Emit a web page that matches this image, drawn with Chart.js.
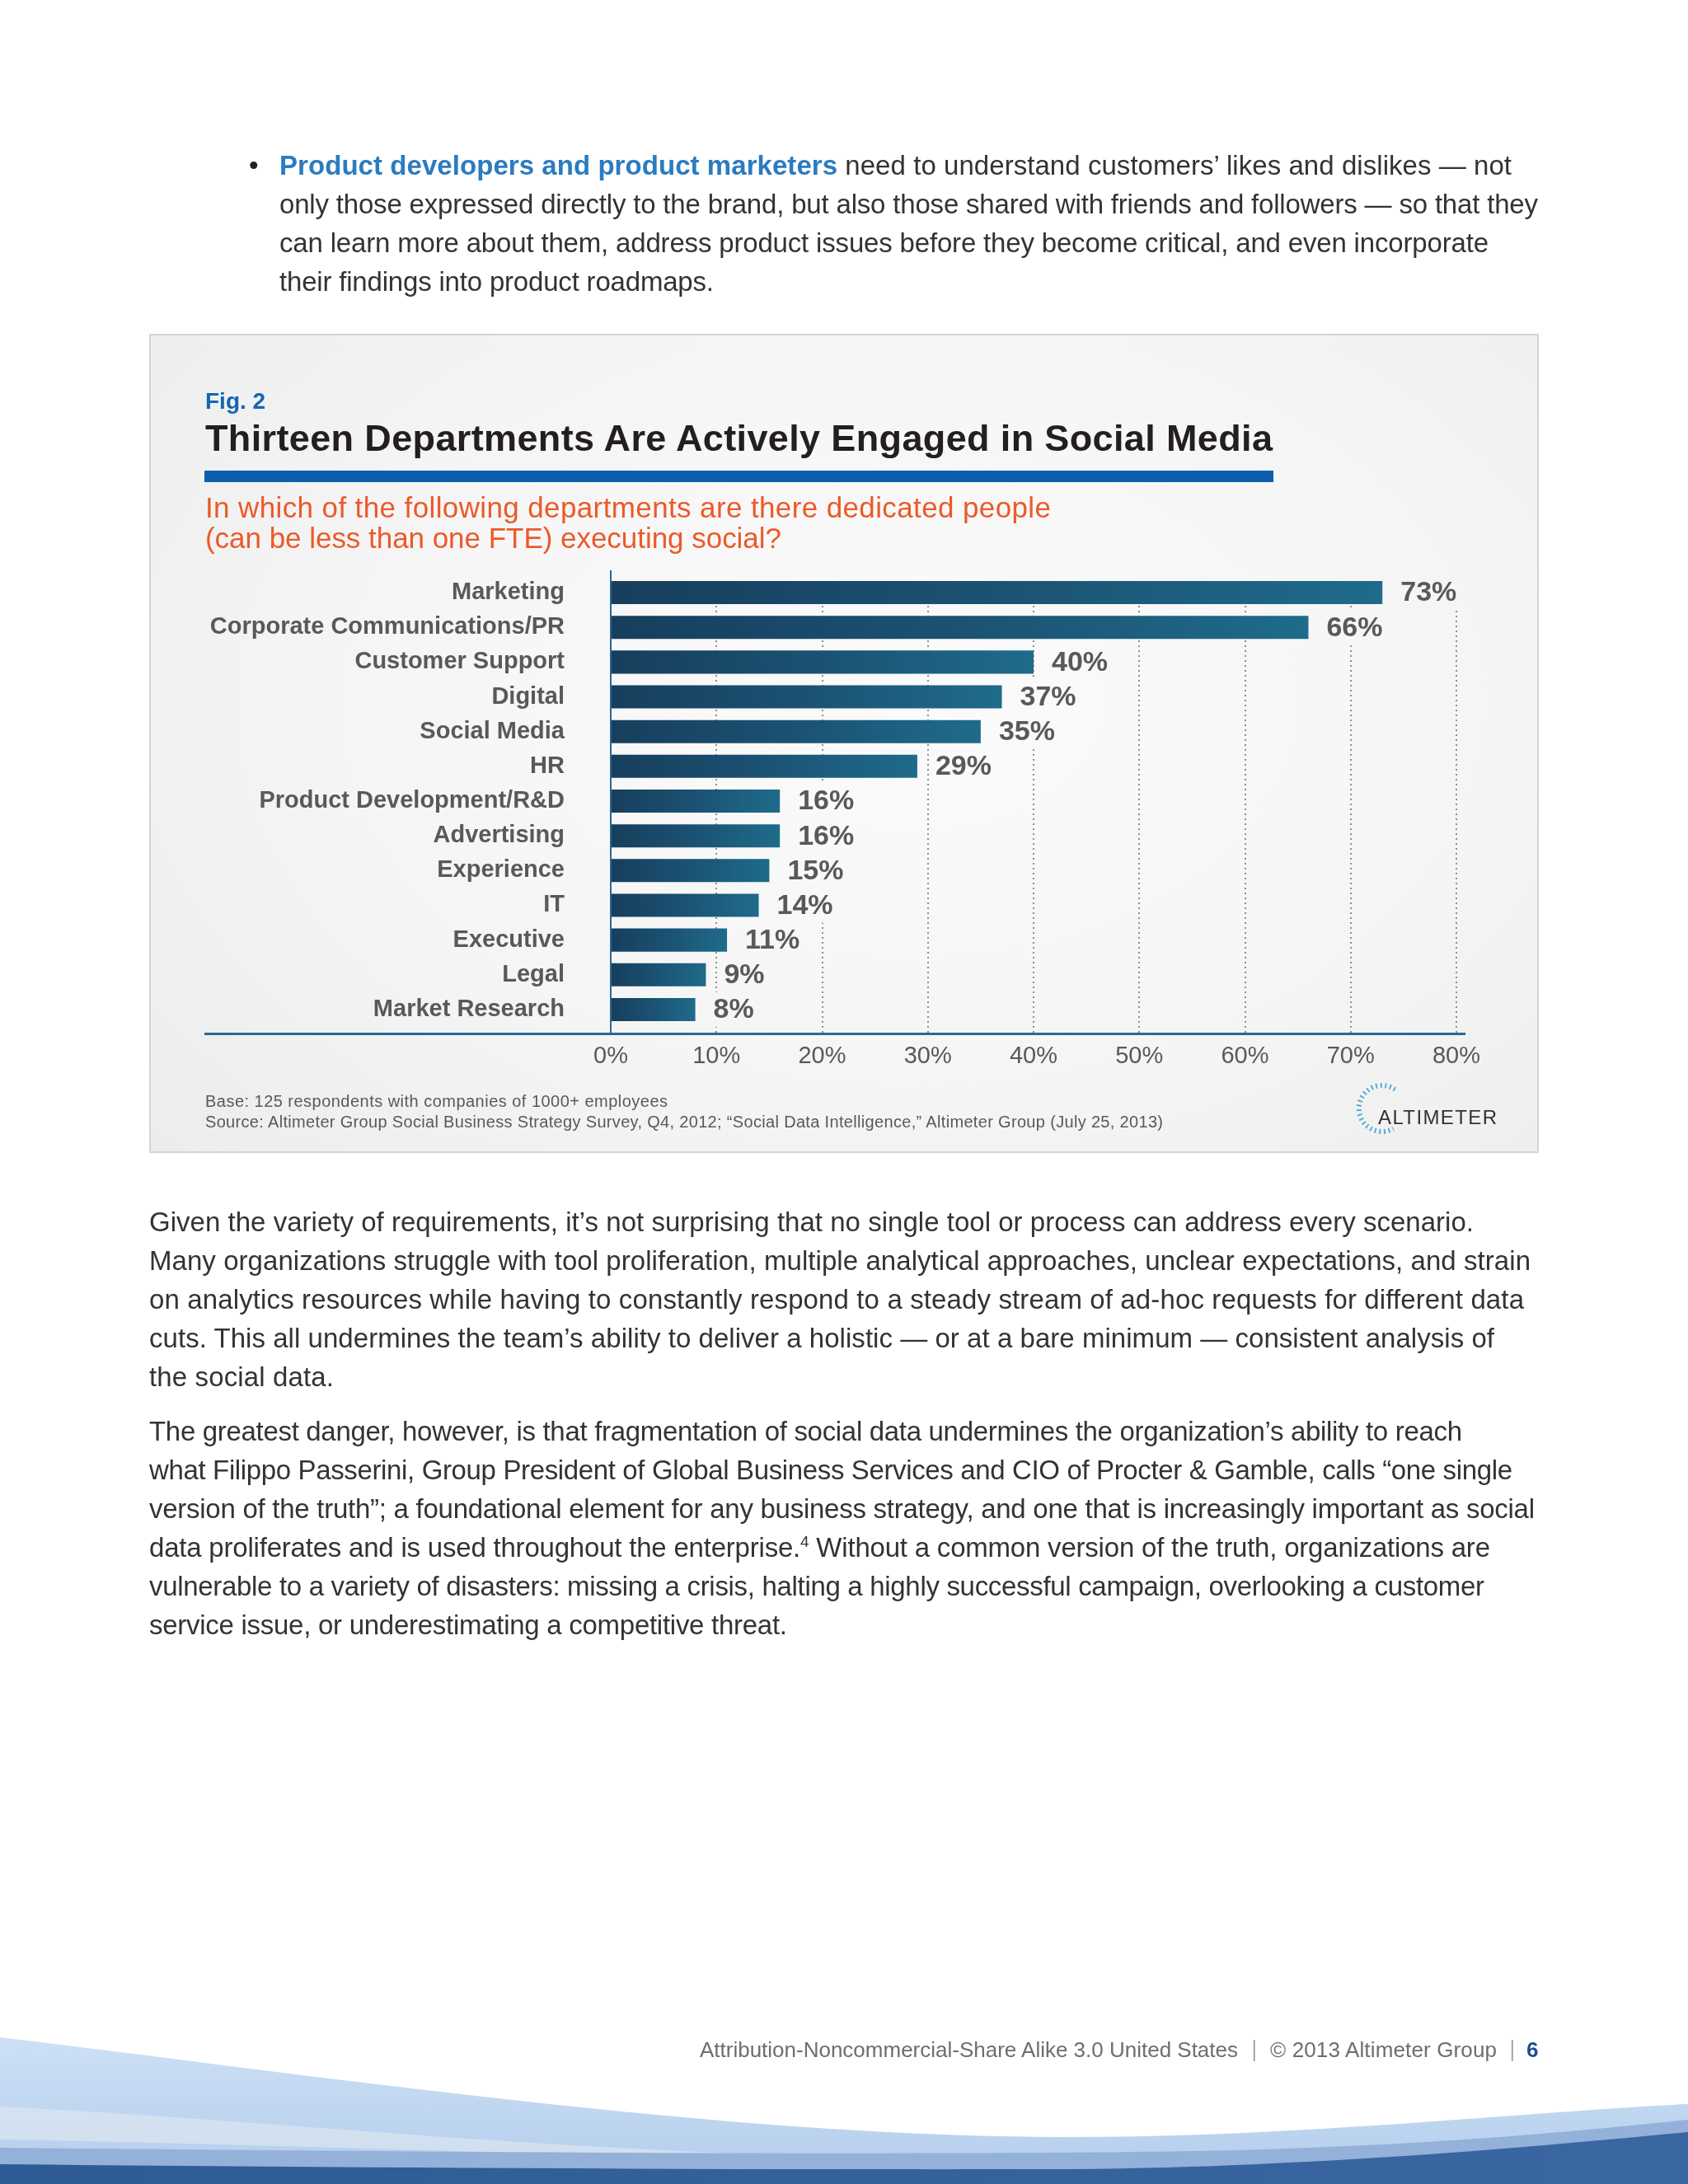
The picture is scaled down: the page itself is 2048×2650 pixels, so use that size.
<!DOCTYPE html>
<html>
<head>
<meta charset="utf-8">
<script src="https://cdn.jsdelivr.net/npm/chart.js@4.4.1/dist/chart.umd.min.js"></script>
<style>
  html, body { margin: 0; padding: 0; background: #fff; }
  #page { position: relative; width: 2048px; height: 2650px; overflow: hidden; background: #fff; }
  #box { position: absolute; left: 181px; top: 405px; width: 1682px; height: 990px;
         border: 2px solid #d3d4d6;
         background: radial-gradient(ellipse 75% 85% at 55% 45%, #fbfbfb 0%, #f5f5f6 55%, #ececed 100%); }
  #chartWrap { position: absolute; left: 181px; top: 670px; width: 1686px; height: 640px; }
  #overlay { position: absolute; left: 0; top: 0; pointer-events: none; }
  text { font-family: "Liberation Sans", Arial, Helvetica, sans-serif; }
</style>
</head>
<body>
<div id="page">
  <div id="box"></div>
  <div id="chartWrap"><canvas id="chart" width="1686" height="640"></canvas></div>

  <svg id="overlay" width="2048" height="2650" viewBox="0 0 2048 2650" xmlns="http://www.w3.org/2000/svg">
    <!-- bullet paragraph -->
    <text x="302" y="212" font-size="33" fill="#222">•</text>
    <text x="339" y="212" font-size="33" fill="#333" textLength="1495" lengthAdjust="spacing"><tspan font-weight="bold" fill="#2b7bc0">Product developers and product marketers</tspan> need to understand customers’ likes and dislikes — not</text>
    <text x="339" y="259" font-size="33" fill="#333" textLength="1527" lengthAdjust="spacing">only those expressed directly to the brand, but also those shared with friends and followers — so that they</text>
    <text x="339" y="306" font-size="33" fill="#333" textLength="1467" lengthAdjust="spacing">can learn more about them, address product issues before they become critical, and even incorporate</text>
    <text x="339" y="353" font-size="33" fill="#333" textLength="527" lengthAdjust="spacing">their findings into product roadmaps.</text>

    <!-- figure header -->
    <text x="249" y="496" font-size="28" font-weight="bold" fill="#1565b0">Fig. 2</text>
    <text x="249" y="547" font-size="45" font-weight="bold" fill="#231f20" textLength="1295" lengthAdjust="spacing">Thirteen Departments Are Actively Engaged in Social Media</text>
    <rect x="248" y="571" width="1297" height="14" fill="#0b5fad"/>
    <text x="249" y="628" font-size="35" fill="#eb5a28" textLength="1026" lengthAdjust="spacing">In which of the following departments are there dedicated people</text>
    <text x="249" y="665" font-size="35" fill="#eb5a28" textLength="699" lengthAdjust="spacing">(can be less than one FTE) executing social?</text>

    <!-- footnotes -->
    <text x="249" y="1343" font-size="20" fill="#58595b" textLength="561" lengthAdjust="spacing">Base: 125 respondents with companies of 1000+ employees</text>
    <text x="249" y="1368" font-size="20" fill="#58595b" textLength="1162" lengthAdjust="spacing">Source: Altimeter Group Social Business Strategy Survey, Q4, 2012; “Social Data Intelligence,” Altimeter Group (July 25, 2013)</text>

    <!-- Altimeter logo -->
    <path d="M1692.5,1321.9 A28,28 0 1 0 1690.5,1369.4" fill="none" stroke="#4aa8d8" stroke-width="6" stroke-dasharray="1.8 3.8"/>
    <text x="1672" y="1364" font-size="24" fill="#333" textLength="144" lengthAdjust="spacing">ALTIMETER</text>

    <!-- body paragraphs -->
    <g font-size="33" fill="#333">
      <text x="181" y="1494" textLength="1607" lengthAdjust="spacing">Given the variety of requirements, it’s not surprising that no single tool or process can address every scenario.</text>
      <text x="181" y="1541" textLength="1676" lengthAdjust="spacing">Many organizations struggle with tool proliferation, multiple analytical approaches, unclear expectations, and strain</text>
      <text x="181" y="1588" textLength="1668" lengthAdjust="spacing">on analytics resources while having to constantly respond to a steady stream of ad-hoc requests for different data</text>
      <text x="181" y="1635" textLength="1632" lengthAdjust="spacing">cuts. This all undermines the team’s ability to deliver a holistic — or at a bare minimum — consistent analysis of</text>
      <text x="181" y="1682" textLength="224" lengthAdjust="spacing">the social data.</text>

      <text x="181" y="1748" textLength="1593" lengthAdjust="spacing">The greatest danger, however, is that fragmentation of social data undermines the organization’s ability to reach</text>
      <text x="181" y="1795" textLength="1654" lengthAdjust="spacing">what Filippo Passerini, Group President of Global Business Services and CIO of Procter &amp; Gamble, calls “one single</text>
      <text x="181" y="1842" textLength="1681" lengthAdjust="spacing">version of the truth”; a foundational element for any business strategy, and one that is increasingly important as social</text>
      <text x="181" y="1889" textLength="1627" lengthAdjust="spacing">data proliferates and is used throughout the enterprise.<tspan dy="-12" font-size="19">4</tspan><tspan dy="12"> Without a common version of the truth, organizations are</tspan></text>
      <text x="181" y="1936" textLength="1620" lengthAdjust="spacing">vulnerable to a variety of disasters: missing a crisis, halting a highly successful campaign, overlooking a customer</text>
      <text x="181" y="1983" textLength="774" lengthAdjust="spacing">service issue, or underestimating a competitive threat.</text>
    </g>

    <!-- bottom waves -->
    <defs>
      <linearGradient id="gLight" x1="0" y1="0" x2="0" y2="1">
        <stop offset="0" stop-color="#cde0f5"/>
        <stop offset="1" stop-color="#b3cdec"/>
      </linearGradient>
      <linearGradient id="gDark" x1="0" y1="0" x2="1" y2="0">
        <stop offset="0" stop-color="#2e5b93"/>
        <stop offset="1" stop-color="#3a67a2"/>
      </linearGradient>
    </defs>
    <path d="M0,2472 C400,2520 900,2595 1306,2593 C1600,2592 1850,2562 2048,2553 L2048,2650 L0,2650 Z" fill="url(#gLight)"/>
    <path d="M0,2556 C250,2568 560,2600 920,2614 L920,2618 C560,2612 250,2600 0,2596 Z" fill="#dce6f1" opacity="0.7"/>
    <path d="M0,2606 C600,2612 1200,2616 1500,2609 C1750,2602 1900,2587 2048,2572 L2048,2650 L0,2650 Z" fill="#93b1d9"/>
    <path d="M0,2626 C400,2630 900,2633 1300,2632 C1600,2629 1850,2606 2048,2587 L2048,2650 L0,2650 Z" fill="url(#gDark)"/>

    <!-- footer -->
    <text x="849" y="2496" font-size="26" fill="#6d6e71" textLength="653" lengthAdjust="spacing">Attribution-Noncommercial-Share Alike 3.0 United States</text>
    <rect x="1521" y="2475" width="1.5" height="26" fill="#8a8b8d"/>
    <text x="1541" y="2496" font-size="26" fill="#6d6e71" textLength="275" lengthAdjust="spacing">© 2013 Altimeter Group</text>
    <rect x="1834" y="2475" width="1.5" height="26" fill="#8a8b8d"/>
    <text x="1852" y="2496" font-size="26" font-weight="bold" fill="#1d4e8f">6</text>
  </svg>
</div>

<script>
// ---- data ----
const categories = [
  'Marketing',
  'Corporate Communications/PR',
  'Customer Support',
  'Digital',
  'Social Media',
  'HR',
  'Product Development/R&D',
  'Advertising',
  'Experience',
  'IT',
  'Executive',
  'Legal',
  'Market Research'
];
const values = [73, 66, 40, 37, 35, 29, 16, 16, 15, 14, 11, 9, 8];
const xTicks = [0, 10, 20, 30, 40, 50, 60, 70, 80];
const xTickLabels = ['0%', '10%', '20%', '30%', '40%', '50%', '60%', '70%', '80%'];

// ---- styles ----
const FONT_FAMILY = '"Liberation Sans", Arial, Helvetica, sans-serif';
const TEXT_GRAY = '#58595b';
const LABEL_FONT = 'bold 34px ' + FONT_FAMILY;
const LABEL_GAP = 22;
const AXIS_GAP = 8;
const AXIS_COLOR = '#2a6896';
const AXIS_LEFT = 67;    // canvas px: where the baseline rule starts
const AXIS_RIGHT = 1597; // canvas px: where the baseline rule ends

function barGradient(c) {
  if (c.type !== 'data') return '#1c5576';
  const chart = c.chart;
  const xs = chart.scales && chart.scales.x;
  if (!chart.chartArea || !xs) return '#1c5576';
  const x0 = xs.getPixelForValue(0);
  const x1 = xs.getPixelForValue(values[c.dataIndex]);
  const g = chart.ctx.createLinearGradient(x0, 0, x1, 0);
  g.addColorStop(0, '#173e5d');
  g.addColorStop(0.5, '#1b5273');
  g.addColorStop(1, '#1f6b8a');
  return g;
}

const decor = {
  id: 'decor',
  beforeDatasetsDraw(chart) {
    const { ctx, chartArea } = chart;
    const xs = chart.scales.x;
    const meta = chart.getDatasetMeta(0);
    const first = meta.data[0];
    const yTop = first.y - first.height / 2;
    const yBot = chartArea.bottom + AXIS_GAP;
    ctx.save();
    ctx.strokeStyle = '#8d8e90';
    ctx.lineWidth = 2;
    ctx.setLineDash([2, 4]);
    xs.ticks.forEach(t => {
      if (t.value === 0) return;
      const px = Math.round(xs.getPixelForValue(t.value));
      ctx.beginPath();
      ctx.moveTo(px, yTop);
      ctx.lineTo(px, yBot);
      ctx.stroke();
    });
    ctx.setLineDash([]);
    // clear gridlines behind the value labels
    ctx.globalCompositeOperation = 'destination-out';
    ctx.font = LABEL_FONT;
    const band = (chartArea.bottom - chartArea.top) / categories.length;
    meta.data.forEach((el, i) => {
      const txt = values[i] + '%';
      const w = ctx.measureText(txt).width;
      const lx = el.x + LABEL_GAP;
      ctx.fillRect(lx - 6, el.y - band / 2, w + 12, band);
    });
    ctx.restore();
  },
  afterDatasetsDraw(chart) {
    const { ctx } = chart;
    const meta = chart.getDatasetMeta(0);
    ctx.save();
    ctx.font = LABEL_FONT;
    ctx.fillStyle = TEXT_GRAY;
    ctx.textAlign = 'left';
    ctx.textBaseline = 'middle';
    meta.data.forEach((el, i) => {
      ctx.fillText(values[i] + '%', el.x + LABEL_GAP, el.y + 1);
    });
    ctx.restore();
  },
  afterDraw(chart) {
    const { ctx, chartArea } = chart;
    const yAxisLine = chartArea.bottom + AXIS_GAP;
    ctx.save();
    ctx.fillStyle = AXIS_COLOR;
    ctx.fillRect(AXIS_LEFT, yAxisLine - 1, AXIS_RIGHT - AXIS_LEFT, 3);
    ctx.fillRect(chartArea.left - 1, chartArea.top - 6, 2, yAxisLine - (chartArea.top - 6));
    ctx.restore();
  }
};

new Chart(document.getElementById('chart'), {
  type: 'bar',
  data: {
    labels: categories,
    datasets: [{
      data: values,
      backgroundColor: barGradient,
      borderWidth: 0,
      barPercentage: 0.665,
      categoryPercentage: 1
    }]
  },
  options: {
    indexAxis: 'y',
    responsive: false,
    animation: false,
    layout: { padding: { left: 0, right: 100, top: 28, bottom: 0 } },
    plugins: { legend: { display: false }, tooltip: { enabled: false } },
    scales: {
      x: {
        type: 'linear',
        position: 'bottom',
        min: xTicks[0],
        max: xTicks[xTicks.length - 1],
        grid: { display: false, drawTicks: false },
        border: { display: false },
        ticks: {
          stepSize: xTicks[1] - xTicks[0],
          padding: 19,
          color: TEXT_GRAY,
          font: { family: FONT_FAMILY, size: 29 },
          callback: (v) => {
            const i = xTicks.indexOf(v);
            return i >= 0 ? xTickLabels[i] : '';
          }
        },
        afterFit: (s) => { s.height = 64; }
      },
      y: {
        type: 'category',
        grid: { display: false, drawTicks: false },
        border: { display: false },
        ticks: {
          autoSkip: false,
          padding: 56,
          color: TEXT_GRAY,
          font: { family: FONT_FAMILY, size: 29, weight: 'bold' }
        },
        afterFit: (s) => { s.width = 560; s.paddingTop = 0; s.paddingBottom = 0; }
      }
    }
  },
  plugins: [decor]
});
</script>
</body>
</html>
